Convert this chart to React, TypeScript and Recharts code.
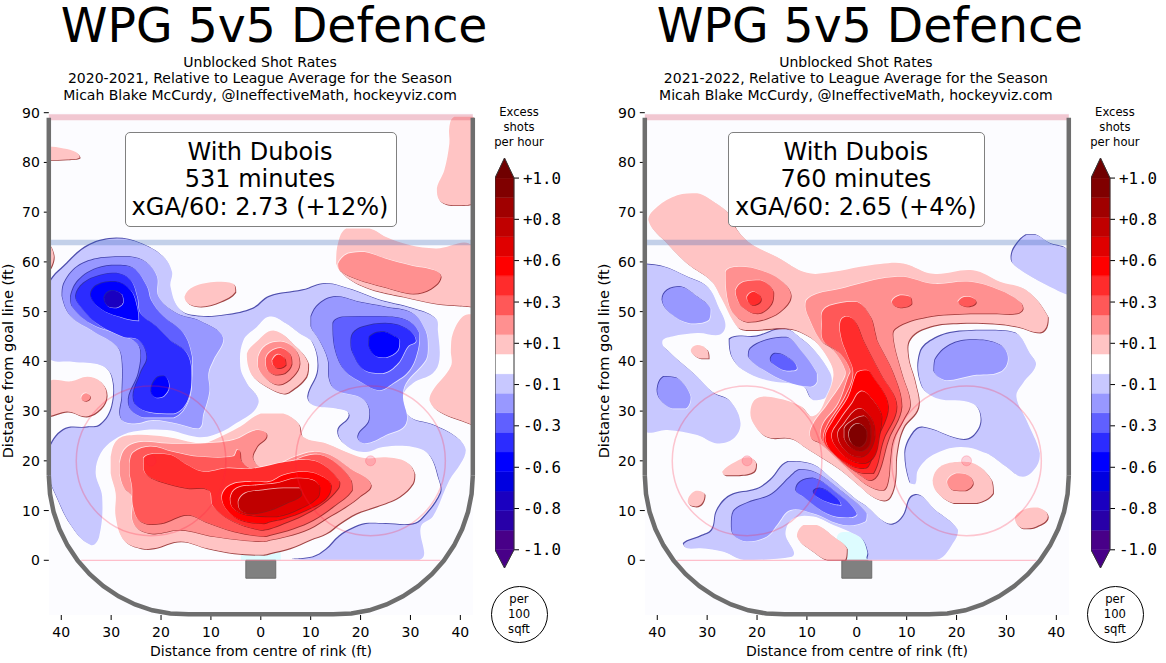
import React from "react"
import { ScatterChart, Scatter, XAxis, YAxis, ReferenceArea, ReferenceDot } from "recharts"

type Pt = [number, number]

const FONT = "'DejaVu Sans', sans-serif"
const INK = "#000"

// contour band colours, same steps as the colour bar
const REDS = ["#ffc4c4", "#ff9090", "#ff5858", "#ff2c2c", "#ff0000", "#e00000", "#c00000", "#a00000", "#800000"]
const BLUES = ["#c8c8ff", "#9898ff", "#6060ff", "#2c2cff", "#0000ff", "#0000e0", "#1a00c0", "#2800a8", "#480088"]

const XTICKS = [-40, -30, -20, -10, 0, 10, 20, 30, 40]
const YTICKS = [0, 10, 20, 30, 40, 50, 60, 70, 80, 90]

const BAR_COLORS = ["#480088", "#2800a8", "#1a00c0", "#0000e0", "#0000ff", "#2c2cff", "#6060ff", "#9898ff", "#c8c8ff", "#ffffff", "#ffc4c4", "#ff9090", "#ff5858", "#ff2c2c", "#ff0000", "#e00000", "#c00000", "#a00000", "#800000"]
const BAR_EDGES = [-1, -0.895, -0.789, -0.684, -0.579, -0.474, -0.368, -0.263, -0.158, -0.053, 0.053, 0.158, 0.263, 0.368, 0.474, 0.579, 0.684, 0.789, 0.895, 1]
const BAR_TICKS = [-1, -0.778, -0.556, -0.333, -0.111, 0.111, 0.333, 0.556, 0.778, 1]
const BAR_LABELS = ["-1.0", "-0.8", "-0.6", "-0.3", "-0.1", "+0.1", "+0.3", "+0.6", "+0.8", "+1.0"]

// rink markings
const BOARD_LEFT: Pt[] = [[-42.5, 89], [-42.5, 17]]
const BOARD_RIGHT: Pt[] = [[42.5, 89], [42.5, 17]]
const BOARD_BOTTOM: Pt[] = [[-42.5, 17], [-42.26, 13.35], [-41.55, 9.75], [-40.37, 6.28], [-38.75, 3], [-36.71, -0.05], [-34.3, -2.8], [-31.55, -5.21], [-28.5, -7.25], [-25.22, -8.87], [-21.75, -10.05], [-18.15, -10.7], [-14.5, -10.85], [14.5, -10.85], [18.15, -10.7], [21.75, -10.05], [25.22, -8.87], [28.5, -7.25], [31.55, -5.21], [34.3, -2.8], [36.71, -0.05], [38.75, 3], [40.37, 6.28], [41.55, 9.75], [42.26, 13.35], [42.5, 17]]
const TOP_LINE: Pt[] = [[-42.5, 89.1], [42.5, 89.1]]
const BLUE_LINE: Pt[] = [[-42.5, 63.9], [42.5, 63.9]]
const GOAL_LINE: Pt[] = [[-36, 0], [36, 0]]
const FACEOFF_X = [-22, 22]

// 2020-2021 contours
const A_B1_MAIN: Pt[] = [[-42.5, 55], [-38.8, 59.7], [-34.3, 63.4], [-28.8, 64.7], [-24.1, 63.7], [-19.5, 61], [-17.8, 58], [-18.1, 55], [-16.1, 50.3], [-12, 49], [-6.8, 49.3], [-1.5, 50.6], [1.8, 53], [8.5, 54.3], [13.1, 55.6], [18.5, 54.3], [23.8, 52.3], [30.5, 50.6], [35.1, 48.6], [35.5, 46.2], [35.8, 40.3], [34.5, 37.6], [30.5, 35.6], [28.5, 32.9], [29.8, 28.9], [34.5, 27.2], [39.1, 24.8], [41.1, 22.2], [40.1, 19.5], [37.8, 16.1], [34.5, 8.8], [32.1, 6.8], [31.8, 0.1], [6.5, 0.1], [10.5, 0.6], [13.1, 2.1], [15.8, 4.8], [18.5, 6.4], [21.1, 7.3], [25.1, 7.3], [30.5, 7.2], [32.5, 8.4], [36.1, 13.5], [35.8, 16.1], [33.8, 21.2], [30.5, 22.8], [24.5, 22.8], [21.1, 21.8], [17.5, 22.8], [15.5, 25.9], [17.8, 29.2], [15.1, 30.5], [10.5, 31.2], [9.5, 32.9], [11.5, 38.2], [10.5, 43.6], [7.8, 45.6], [5.1, 47.6], [1.8, 49], [-0.8, 46.9], [-3.5, 44.2], [-4.1, 38.9], [-2.8, 35.6], [-0.5, 31.5], [-5.5, 27.2], [-9.5, 25.2], [-12.8, 24.8], [-18.8, 26.2], [-25.5, 25.9], [-29.5, 24.2], [-32.1, 21.5], [-33.1, 17.5], [-31.8, 12.8], [-32.4, 4.8], [-34.1, 3.1], [-38, 7], [-41, 13], [-42.5, 17], [-42.5, 22], [-39.5, 26.2], [-34.8, 26.7], [-32.1, 27.2], [-29.8, 30.9], [-29.8, 36.9], [-32.1, 39.2], [-37.8, 39.9], [-42.5, 41]]
const A_B2_LEFT: Pt[] = [[-39.8, 53], [-39.5, 55.5], [-36.8, 59], [-32, 60.8], [-26.1, 61], [-22.8, 59.8], [-20.8, 57], [-20.5, 53], [-16.8, 49.6], [-12, 48], [-7.5, 44.6], [-9.5, 40.3], [-10.5, 37.6], [-10.3, 34], [-11.5, 29.5], [-12.5, 26.5], [-16.8, 27.5], [-21.5, 28.2], [-25.5, 27.5], [-28, 28.5], [-27.8, 32.9], [-27.8, 40.3], [-28.8, 43], [-33.5, 46], [-38, 49]]
const A_B3_LEFT: Pt[] = [[-38.1, 53], [-36.5, 56.3], [-32.8, 58.7], [-28.8, 59.3], [-25.5, 58.7], [-22.8, 55], [-22, 52.3], [-19.5, 49], [-15.5, 45.6], [-13.8, 41], [-13.8, 37.6], [-14.5, 32.2], [-17.5, 28.7], [-23.5, 28.7], [-26.5, 31.5], [-24.5, 37.6], [-24.1, 42.3], [-25.5, 44.2], [-28.8, 45.6], [-34.1, 47.6], [-37.8, 51]]
const A_B4_LEFT: Pt[] = [[-37.1, 53], [-35.5, 55.7], [-32.1, 57.3], [-28.8, 57.7], [-26.1, 56.3], [-24.8, 53], [-24.1, 49.6], [-20.8, 46.9], [-18.1, 44.2], [-14.8, 41.6], [-13.9, 36.9], [-14.8, 31.9], [-17.5, 29.5], [-22.8, 29.9], [-25.5, 32.2], [-24.1, 37.6], [-22.8, 40.9], [-24.5, 44.3], [-27.5, 44.9], [-32.8, 47.6], [-36.1, 51]]
const A_B5_TOP: Pt[] = [[-29.1, 56], [-26.1, 54.3], [-24.8, 50.9], [-24.5, 48.2], [-28.1, 48.9], [-32.1, 50.6], [-34.1, 53.3], [-32.8, 55.3]]
const A_B7_TOP: Pt[] = [[-31.4, 52.8], [-30, 54.2], [-28, 53.6], [-27.6, 51.9], [-29, 50.8], [-30.8, 51.2]]
const A_B5_LOW: Pt[] = [[-22, 34], [-21, 36.5], [-19.3, 37], [-18.4, 35], [-19.5, 33], [-21, 32.7]]
const A_B2_RIGHT: Pt[] = [[10.1, 49], [11.8, 51.6], [15.1, 53], [19.8, 51.9], [25.1, 50.9], [30.5, 49.6], [33.1, 46], [33.5, 43], [33.1, 40.3], [29.1, 35.6], [28.5, 32.9], [29.1, 27.5], [25.1, 25.2], [20.8, 23.5], [19.5, 24.9], [21.8, 28.2], [20.8, 32.2], [15.1, 34.2], [13.8, 36.2], [13.5, 40.3], [11.8, 44.2], [10.1, 46.9]]
const A_B3_RIGHT: Pt[] = [[14.5, 47.6], [16.5, 48.9], [23.8, 49], [29.1, 48.3], [31.8, 45.6], [31.5, 42.3], [29.8, 38.2], [26.5, 35.6], [23.8, 34.2], [20.5, 35.6], [16.8, 38.2], [14.8, 42.9]]
const A_B4_RIGHT: Pt[] = [[18.5, 45.6], [20.5, 46.9], [25.1, 47.6], [29.1, 46.6], [31.1, 44.2], [29.5, 43], [27.5, 39.6], [24.5, 37.6], [20.8, 38.2], [18.5, 41.6], [18.1, 43.6]]
const A_B5_RIGHT: Pt[] = [[21.8, 44.9], [24.5, 45.9], [27.1, 44.9], [27.8, 44.3], [27.5, 42.3], [25.1, 40.8], [23.1, 41], [21.7, 43]]

const A_R1_CORNER: Pt[] = [[-42.5, 83.2], [-39.5, 82.8], [-37.1, 82.1], [-36.3, 81], [-38.8, 80.6], [-42.5, 80.5]]
const A_R1_WALL: Pt[] = [[-42.5, 63.5], [-41.5, 61], [-42.5, 58.5]]
const A_R1_OVAL: Pt[] = [[-15.3, 53], [-13.5, 55], [-8.8, 56], [-5.5, 55.6], [-5.1, 54], [-8.1, 52], [-12.1, 51], [-14.5, 51.6]]
const A_R1_TOPRIGHT: Pt[] = [[38.8, 89.2], [37.8, 87.2], [37.8, 83.8], [36.8, 78.5], [35.3, 74.8], [35.8, 72.4], [38.5, 71.4], [42.5, 71.7], [42.5, 86], [42.5, 89.2]]
const A_R1_UPPER: Pt[] = [[17.1, 66.7], [21.8, 66.7], [25.1, 65], [29.8, 63.4], [35.1, 62.7], [42.5, 63], [42.5, 51], [39.8, 51.2], [35.1, 51.6], [28.5, 53], [21.8, 54.6], [17.1, 57], [15.1, 59.7], [15.3, 63]]
const A_R2_UPPER: Pt[] = [[15.5, 59.7], [17.5, 61.7], [20.8, 62], [24.9, 60.7], [30.1, 59.3], [34.8, 58.3], [36.1, 57], [34.1, 54.6], [30.5, 53.6], [24.5, 55], [19.1, 56.6], [15.8, 58.3]]
const A_R1_LOWER: Pt[] = [[42.5, 49.5], [40.5, 49], [38.5, 45.6], [38.1, 42.3], [38.1, 39], [34.5, 34.2], [33.8, 32.2], [35.8, 29.9], [41.8, 27.5], [42.5, 27.2]]
const A_R1_MID: Pt[] = [[-2.8, 41.6], [-0.8, 44], [2.5, 46.2], [7.1, 42.9], [9.5, 39.6], [9.1, 36.9], [5.8, 33.9], [4.5, 33.5], [1.2, 34.9], [-1.5, 36.9], [-2.5, 38.9]]
const A_R2_MID: Pt[] = [[-0.5, 41], [1, 43.2], [4, 44], [6.8, 42.5], [7.8, 39.6], [6.5, 37], [3.5, 35.3], [0.8, 36.8], [-0.6, 39]]
const A_R3_MID: Pt[] = [[1, 40.5], [2, 42], [4, 42.7], [5.8, 41.5], [6.2, 39.5], [4.8, 37.6], [2.8, 37.3], [1.2, 38.5]]
const A_R4_MID: Pt[] = [[2.3, 40.2], [3.5, 41.4], [4.8, 40.6], [5, 39.3], [3.6, 38.6], [2.5, 39.2]]
const A_R1_LEFT: Pt[] = [[-42.5, 35.9], [-38, 36], [-34.8, 36.9], [-32.1, 35.9], [-30.9, 33.2], [-32.1, 30.5], [-35.1, 28.9], [-38.8, 29.9], [-42.5, 29]]
const A_R2_LEFT: Pt[] = [[-36, 32.6], [-35.1, 33.6], [-34.2, 32.8], [-35.1, 32]]
const A_R1_MAIN: Pt[] = [[-30.1, 20.8], [-28.8, 24.2], [-25.5, 25.2], [-18.8, 24.8], [-12.1, 23.5], [-9.5, 24.2], [-4.1, 26.9], [0, 29.5], [4.5, 29.5], [7.5, 27.5], [8.5, 24.8], [13.1, 23.5], [18.5, 21.2], [21.1, 20.5], [25.1, 20.7], [29.1, 19.8], [30.8, 17.5], [30.5, 15.5], [27.8, 12.8], [23.1, 10.8], [19.1, 9.4], [15.8, 7.4], [13.1, 5.4], [9.8, 4.1], [5.8, 2.4], [1.8, 1.4], [0.5, 1.1], [-5.5, 1.4], [-10.8, 2.4], [-16.1, 3.8], [-21.5, 2.4], [-24.1, 2.4], [-27.5, 4.1], [-29.1, 8.8], [-29.1, 13.5], [-30.1, 17.5]]
const A_R2_MAIN: Pt[] = [[-28.3, 19.5], [-27.1, 22.5], [-24.1, 23.8], [-18.8, 23.5], [-12.1, 23.5], [-5.5, 24.2], [-0.8, 26.2], [1.2, 25.2], [-0.8, 22.8], [-1.5, 20.2], [1.2, 18.5], [6.8, 20.8], [10.5, 21.8], [13.8, 21.2], [17.8, 18.5], [22.1, 15.2], [19.8, 12.8], [17.1, 10.8], [13.1, 8.4], [9.8, 6.4], [5.1, 4.8], [1.8, 4.1], [0.5, 3.8], [-4.1, 4.1], [-9.5, 4.8], [-16.1, 6.1], [-22.1, 5.4], [-25.5, 7.4], [-25.8, 12.8], [-27.5, 14.8], [-28.3, 17.5]]
const A_R3_MAIN: Pt[] = [[-26.3, 19.5], [-25.5, 21.7], [-22.1, 22.9], [-17.5, 21.8], [-12.1, 20.8], [-5.5, 20.9], [-4.5, 22.2], [-3.8, 19.8], [-1.5, 18.2], [1.2, 17.4], [8.5, 20.8], [11.8, 21.2], [15.1, 19.5], [18.1, 16.1], [18.3, 14.1], [14.5, 10.8], [10.5, 8.1], [6.5, 6.4], [1.8, 5.1], [0.5, 4.8], [-5.5, 5.8], [-10.8, 7.6], [-14.8, 9.1], [-20.1, 7.4], [-24.1, 7.8], [-25.6, 10.8], [-25.8, 14.8], [-26.3, 17.5]]
const A_R4_MAIN: Pt[] = [[-23.5, 18.5], [-23.5, 20.5], [-21.5, 21.4], [-18.1, 21.2], [-14.8, 19.2], [-11.5, 17.8], [-6.8, 18.5], [-2, 18.4], [5.1, 19.8], [9.1, 20.2], [12.5, 19.2], [15.8, 15.8], [15.5, 14.5], [12.5, 11.5], [8.5, 9.1], [4.5, 7.4], [1.8, 6.4], [-0.1, 6.1], [-5.5, 7.8], [-9.5, 10.8], [-10.5, 14.1], [-14.8, 14.5], [-20.1, 15.8], [-22.8, 17.1]]
const A_R5_MAIN: Pt[] = [[-7.8, 12.8], [-6.1, 15.1], [-2.1, 15.8], [1.8, 15.8], [4.5, 17.1], [8.5, 17.8], [11.8, 17.1], [14.1, 15.1], [13.1, 12.5], [9.1, 10.1], [4.5, 8.4], [1.8, 7.8], [0.5, 7.4], [-4.1, 8.1], [-6.8, 10.1]]
const A_R6_MAIN: Pt[] = [[-6.1, 12.5], [-4.8, 14.5], [-0.8, 15.1], [3.1, 15.5], [7.1, 16.5], [10.5, 16.1], [11.8, 14.8], [11.5, 12.8], [7.8, 10.4], [3.1, 8.8], [-2.8, 9.1], [-5.5, 10.4]]
const A_R7_MAIN: Pt[] = [[-4.5, 11.8], [-3.1, 13.5], [0.5, 14.1], [4.5, 14.5], [7.8, 14.5], [8.1, 13.1], [5.1, 11.5], [1.8, 10.1], [-2.1, 9.4], [-4.1, 10.1]]

// 2021-2022 contours
const B_B1_LEFT: Pt[] = [[-42.5, 59.5], [-38.7, 59], [-34, 57], [-30, 55], [-28, 51.6], [-26.7, 46], [-32, 45.7], [-37, 45], [-39, 43.9], [-37.3, 41.6], [-32, 36.9], [-28.7, 33.6], [-25.3, 31.9], [-23.3, 27.5], [-24.7, 24.5], [-28, 23.5], [-32, 25.2], [-38, 26.2], [-42.5, 26.3], [-42.5, 40]]
const B_B2_UL: Pt[] = [[-39, 52.3], [-38, 54.3], [-35.3, 55], [-32, 53], [-29.3, 50.6], [-29.7, 48.3], [-33.3, 47.6], [-37.3, 49.6]]
const B_B2_LL: Pt[] = [[-40, 34.2], [-38.7, 36.9], [-36, 36.6], [-33.3, 32.9], [-34.3, 30.5], [-37, 30.5], [-39.3, 32.2]]
const B_B1_MID: Pt[] = [[-25.5, 44.4], [-20, 45], [-14.7, 46.6], [-10.7, 44.2], [-8, 41.6], [-5.3, 37.6], [-5, 35.6], [-6, 32.9], [-8.7, 32.2], [-10.7, 34.9], [-18, 36.2], [-22.7, 38.2], [-25, 40.9]]
const B_B2_MID: Pt[] = [[-21.7, 40.9], [-21.3, 42.6], [-18, 44.3], [-14, 44.8], [-11.3, 42.3], [-8, 37.6], [-8, 35.9], [-9.3, 34.9], [-14, 35.9], [-18.7, 38.3]]
const B_B3_MID: Pt[] = [[-17.3, 40.3], [-16.3, 41.6], [-14, 40.9], [-12, 38.6], [-14, 38.1], [-16, 38.9]]
const B_B1_TOPRIGHT: Pt[] = [[31, 61], [31.7, 63], [34, 65.4], [36, 65.4], [38.7, 63.7], [42.5, 62], [42.5, 53.4], [38.7, 55], [34, 57.6], [31.3, 59.7]]
const B_B1_RIGHT: Pt[] = [[12.7, 41.6], [15.7, 44.6], [20.7, 46], [27.3, 46.2], [32, 45.6], [34.7, 41.6], [35.9, 39.2], [33.3, 35.6], [32, 32.9], [34, 28.2], [36.7, 21.5], [36, 18.8], [33.3, 16.8], [30, 18.8], [26, 21.5], [20.7, 22.8], [15.3, 21.2], [12.3, 18.2], [11.7, 15.3], [10.7, 15.5], [9.7, 21.5], [11.3, 25.5], [13.3, 26.7], [20.7, 24.3], [23.3, 24.8], [25, 28.2], [23.3, 31.5], [16, 32.6], [13, 35.2]]
const B_B2_RIGHT: Pt[] = [[15.5, 37.9], [15.7, 40.3], [18.7, 43.3], [23.3, 44.3], [28.7, 43.3], [30.3, 40.6], [28.7, 37.9], [23.3, 37.2], [18, 36.2]]
const B_B1_LOW: Pt[] = [[-34.7, 3.3], [-31.3, 4.8], [-29, 6.1], [-28, 10], [-25.3, 13], [-20, 14.3], [-17.3, 16.1], [-13.7, 19.8], [-8.7, 19.2], [-4.7, 16.1], [0, 12.1], [2, 10.8], [5.3, 7.8], [7.3, 7.2], [9.3, 8.8], [11.7, 13.1], [15.8, 10], [20.3, 6.1], [19.7, 4.1], [16, 0.1], [2.3, 0.1], [2.3, 1.4], [1.3, 4.1], [-0.7, 5.4], [-4.7, 7.1], [-8.7, 8.8], [-12.7, 8.4], [-14.3, 5.4], [-13, 0.7], [-22.7, 0.1], [-26.7, 1.7], [-31.3, 2.4], [-34, 2.4]]
const B_B2_LOW: Pt[] = [[-25.1, 7.1], [-24.7, 9.8], [-22, 11.5], [-18, 12.8], [-16, 14.1], [-13.3, 16.8], [-11.3, 18.2], [-8, 17.5], [-3.3, 14.1], [2, 9.4], [1.7, 7.8], [-2.7, 7.1], [-8.7, 9.4], [-13.3, 10.1], [-16, 7.1], [-18, 4.8], [-22, 3.8], [-24.7, 5.1]]
const B_B3_LOW: Pt[] = [[-12.2, 14.1], [-11.3, 15.8], [-8.7, 16.5], [-4.7, 14.1], [0, 9.4], [-2, 8.6], [-6, 9.4], [-10.7, 12.8]]
const B_B4_LOW: Pt[] = [[-8.7, 13.8], [-7.3, 14.5], [-4.7, 13.1], [-3.2, 11.1], [-5.3, 11.5], [-8, 12.8]]

const B_R1_MAIN: Pt[] = [[-41.8, 68.4], [-40, 71.1], [-36, 73.4], [-32, 73.8], [-28.7, 72.1], [-25.7, 69.7], [-24, 66.4], [-21.3, 63.7], [-16, 61], [-10, 57.8], [-4.7, 58], [0.7, 59], [4.7, 59.6], [9.3, 59.7], [15.3, 57.6], [23.3, 58.3], [28.7, 56], [34, 54.3], [38.3, 49], [38, 46.9], [36.6, 45.8], [32, 47], [27.3, 47.6], [20.7, 47.7], [14.7, 47], [10.7, 44.6], [10.3, 41], [11.7, 35.8], [12.3, 30.7], [9.3, 26.6], [8, 21.5], [7.7, 16.1], [6.7, 12.8], [5.3, 12], [2.7, 13.1], [0.7, 14.8], [-3.3, 18.2], [-7.3, 20.8], [-10, 22.5], [-13.3, 24.5], [-18, 24.8], [-20.7, 27.5], [-21.3, 30.2], [-20, 32.6], [-16, 32.6], [-11.3, 31], [-8.7, 29], [-6, 33], [-4.7, 37], [-5.3, 39.7], [-8, 43.7], [-10.7, 45.6], [-14, 46.6], [-22, 46.3], [-24, 47], [-27.3, 53], [-29.3, 56.3], [-34, 59.7], [-38, 63.7]]
const B_R2_LEFT: Pt[] = [[-26.3, 58], [-23.3, 59], [-19.3, 58.3], [-15.3, 56.3], [-13.2, 53.3], [-14.7, 50.6], [-18, 48.6], [-22, 47.9], [-24.7, 49.6], [-26, 53]]
const B_R3_LEFT: Pt[] = [[-24.3, 54.3], [-22.7, 56], [-19.3, 56.3], [-16.7, 54], [-17.3, 51.3], [-20, 49.6], [-23, 51], [-24, 52.7]]
const B_R4_LEFT: Pt[] = [[-22, 53], [-20.7, 54], [-19.2, 52.5], [-20.7, 51.3], [-21.8, 52]]
const B_R2_MAIN: Pt[] = [[-10.1, 52.3], [-8, 53.6], [-3.3, 54.6], [4.7, 56.6], [9.3, 57], [15.3, 55.6], [22.7, 56], [28.7, 54.3], [32.7, 52], [33.3, 50.6], [32, 49.6], [27.3, 49.6], [22.7, 49.6], [14, 48.9], [7.7, 46.6], [7.3, 44.3], [9, 37.6], [10.7, 31.5], [9.3, 28.2], [7.3, 24.2], [6.7, 20.2], [6.3, 16.1], [5.3, 14.1], [3.3, 14.5], [0.7, 16.1], [-3.3, 19.8], [-7.3, 23.5], [-9.3, 24.8], [-8.7, 27.5], [-6, 31.2], [-2.7, 36.2], [-2.3, 38.2], [-4.7, 42.3], [-7.3, 44.3], [-9.7, 49], [-10.3, 51]]
const B_R3_MAIN: Pt[] = [[-6.7, 50.3], [-4, 51.6], [0, 52], [2.7, 49], [3.7, 45.6], [4, 44.3], [7.3, 37.6], [9, 31], [6.3, 24.2], [4.3, 17.5], [2.7, 16.1], [0.7, 17.1], [-4, 20.8], [-7.3, 24.8], [-6.7, 27.5], [-3.7, 31.5], [-1.7, 36.9], [-1.3, 38.2], [-3.3, 41.6], [-6.7, 44.2], [-7, 47.6]]
const B_R4_MAIN: Pt[] = [[-3.3, 47.9], [-2, 49], [-0.3, 47.9], [1.3, 44.2], [4.7, 37.6], [8, 31], [5.3, 24.2], [3.3, 17.5], [1.3, 17.5], [-1.3, 18.5], [-4.7, 21.5], [-6.7, 24.2], [-6, 26.9], [-2.3, 32.9], [-0.7, 37.6], [-2, 41.6], [-3, 44.3]]
const B_R5_MAIN: Pt[] = [[0.3, 37.9], [2, 38.2], [2.7, 37.7], [6.3, 31], [4, 24.2], [2.3, 19], [0.7, 18.5], [-2, 19.5], [-5.3, 22.2], [-6.3, 24.8], [-4.7, 28.2], [-1.7, 32.9], [-0.3, 37]]
const B_R6_MAIN: Pt[] = [[1, 34], [3, 32.5], [5, 29], [4.5, 25], [3.5, 21], [1.5, 19.5], [-1, 20], [-3.5, 22], [-5, 25], [-3.5, 28], [-1, 31.5]]
const B_R7_MAIN: Pt[] = [[1, 30.5], [3.2, 28], [3.6, 25], [2.5, 22], [0.8, 20.8], [-1.2, 21.2], [-3.2, 23.2], [-3.8, 25.5], [-2.5, 27.5], [-0.5, 30]]
const B_R8_MAIN: Pt[] = [[1.5, 29], [2.8, 26.5], [2.6, 23.5], [1, 22], [-1, 22.5], [-2.5, 24.5], [-2.5, 26.5], [-1, 28]]
const B_R9_MAIN: Pt[] = [[0.5, 27.5], [2, 26], [1.8, 24], [0.5, 22.8], [-1, 23.5], [-1.6, 25.5], [-0.8, 27]]
const B_R3_SPOT_A: Pt[] = [[7, 52], [8.7, 53.3], [10.7, 53], [11, 51.6], [9, 50.8], [7.7, 51.1]]
const B_R3_SPOT_B: Pt[] = [[20.3, 52], [22, 53], [23.9, 52], [22.3, 51], [21, 51.3]]
const B_R1_A: Pt[] = [[-33.3, 42.3], [-32, 43.3], [-30, 42.3], [-29.7, 40.6], [-31.3, 40.6], [-32.7, 41.3]]
const B_R1_B: Pt[] = [[-27, 17.8], [-24.3, 19.8], [-21.7, 20.7], [-20.2, 19.5], [-20.7, 17.8], [-23.7, 17.1], [-26.3, 17.1]]
const B_R1_C: Pt[] = [[-33.9, 11.8], [-32.3, 14], [-30.5, 13.3], [-31, 11.5], [-32.3, 10.8]]
const B_R1_NET: Pt[] = [[-12, 4.8], [-10.7, 7.1], [-8, 7.1], [-4.7, 4.8], [-2, 2.4], [-2.3, 0.1], [-6, 0.1], [-8.7, 1.7]]
const B_R1_OVAL: Pt[] = [[15.2, 16.1], [16.7, 18.8], [20.7, 19.8], [24, 19.2], [27, 16.1], [27.3, 13.5], [24, 11.5], [19.3, 11.5], [16, 13.8]]
const B_R2_OVAL: Pt[] = [[18.1, 15.8], [20, 17.5], [22.3, 17.1], [23.3, 15.5], [21.7, 14], [19.3, 14.1]]
const B_R1_FAR: Pt[] = [[31.7, 8.4], [33.3, 10.1], [36.3, 10.6], [38.3, 8.8], [36, 6.8], [33.3, 6.4]]

type Layer = [string, number, Pt[]]

const A_LAYERS: Layer[] = [
  ["b", 0, A_B1_MAIN], ["b", 1, A_B2_LEFT], ["b", 2, A_B3_LEFT], ["b", 3, A_B4_LEFT], ["b", 4, A_B5_TOP], ["b", 6, A_B7_TOP], ["b", 4, A_B5_LOW],
  ["b", 1, A_B2_RIGHT], ["b", 2, A_B3_RIGHT], ["b", 3, A_B4_RIGHT], ["b", 4, A_B5_RIGHT],
  ["r", 0, A_R1_CORNER], ["r", 0, A_R1_WALL], ["r", 0, A_R1_OVAL], ["r", 0, A_R1_TOPRIGHT], ["r", 0, A_R1_UPPER], ["r", 1, A_R2_UPPER], ["r", 0, A_R1_LOWER],
  ["r", 0, A_R1_MID], ["r", 1, A_R2_MID], ["r", 2, A_R3_MID], ["r", 3, A_R4_MID], ["r", 0, A_R1_LEFT], ["r", 1, A_R2_LEFT],
  ["r", 0, A_R1_MAIN], ["r", 1, A_R2_MAIN], ["r", 2, A_R3_MAIN], ["r", 3, A_R4_MAIN], ["r", 4, A_R5_MAIN], ["r", 5, A_R6_MAIN], ["r", 6, A_R7_MAIN],
]

const B_LAYERS: Layer[] = [
  ["b", 0, B_B1_LEFT], ["b", 1, B_B2_UL], ["b", 1, B_B2_LL], ["b", 0, B_B1_MID], ["b", 1, B_B2_MID], ["b", 2, B_B3_MID], ["b", 0, B_B1_TOPRIGHT],
  ["b", 0, B_B1_RIGHT], ["b", 1, B_B2_RIGHT], ["b", 0, B_B1_LOW], ["b", 1, B_B2_LOW], ["b", 2, B_B3_LOW], ["b", 3, B_B4_LOW],
  ["r", 0, B_R1_MAIN], ["r", 1, B_R2_LEFT], ["r", 2, B_R3_LEFT], ["r", 3, B_R4_LEFT], ["r", 1, B_R2_MAIN], ["r", 2, B_R3_MAIN], ["r", 3, B_R4_MAIN], ["r", 4, B_R5_MAIN],
  ["r", 5, B_R6_MAIN], ["r", 6, B_R7_MAIN], ["r", 7, B_R8_MAIN], ["r", 8, B_R9_MAIN], ["r", 2, B_R3_SPOT_A], ["r", 2, B_R3_SPOT_B],
  ["r", 0, B_R1_A], ["r", 0, B_R1_B], ["r", 0, B_R1_C], ["r", 0, B_R1_NET], ["r", 0, B_R1_OVAL], ["r", 1, B_R2_OVAL], ["r", 0, B_R1_FAR],
]

const rows = (pts: Pt[]) => pts.map(([x, y]) => ({ x, y }))
const noDot = () => <g />

// smooth closed outline through the already scaled points
function closedPath(points: { x: number; y: number }[]) {
  const n = points.length
  const xs = points.map((p) => p.x)
  const ys = points.map((p) => p.y)
  // keep control points inside the outline's box so nothing bulges past the boards
  const cx = (v: number) => Math.min(Math.max(v, Math.min(...xs)), Math.max(...xs))
  const cy = (v: number) => Math.min(Math.max(v, Math.min(...ys)), Math.max(...ys))
  const tangent = (i: number) => {
    const a = points[(i - 1 + n) % n]
    const b = points[(i + 1) % n]
    const dx = b.x - a.x
    const dy = b.y - a.y
    const len = Math.hypot(dx, dy) || 1
    return [dx / len, dy / len]
  }
  let d = `M${points[0].x},${points[0].y}`
  for (let i = 0; i < n; i++) {
    const p = points[i]
    const q = points[(i + 1) % n]
    const seg = Math.hypot(q.x - p.x, q.y - p.y) * 0.36
    const [tx, ty] = tangent(i)
    const [ux, uy] = tangent((i + 1) % n)
    d += `C${cx(p.x + tx * seg)},${cy(p.y + ty * seg)} ${cx(q.x - ux * seg)},${cy(q.y - uy * seg)} ${q.x},${q.y}`
  }
  return d + "Z"
}

// each contour gets a dark edge on one side and a white edge on the other
const bevel = (kind: string, level: number) => (props: any) => {
  const d = closedPath(props.points)
  const red = kind === "r"
  const fill = red ? REDS[level] : BLUES[level]
  const dark = red ? "#8a1616" : "#24249a"
  const sign = red ? 1 : -1
  const shift = sign * (level === 0 ? 0.9 : 0.7)
  return (
    <g>
      <path d={d} fill={dark} opacity={0.8} transform={`translate(${shift},${shift})`} />
      <path d={d} fill="#fff" opacity={0.7} transform={`translate(${-sign * 0.6},${-sign * 0.6})`} />
      <path d={d} fill={fill} />
    </g>
  )
}

function Txt({ x, y, size, children, family = FONT }: any) {
  return (
    <div style={{ position: "absolute", left: x, top: y, transform: "translate(-50%,-50%)", whiteSpace: "nowrap", fontFamily: family, fontSize: size, lineHeight: 1, color: INK }}>
      {children}
    </div>
  )
}

function Rink({ layers }: { layers: Layer[] }) {
  const guide = (pts: Pt[], stroke: string, width: number, opacity: number) => (
    <Scatter data={rows(pts)} shape={noDot} isAnimationActive={false} line={{ stroke, strokeWidth: width, strokeOpacity: opacity, fill: "none" }} />
  )
  return (
    <ScatterChart width={480} height={663} margin={{ top: 112.7, left: 0, right: 7.2, bottom: 0 }} style={{ position: "absolute", left: 0, top: 0 }}>
      <XAxis
        type="number"
        dataKey="x"
        domain={[-42.5, 42.5]}
        ticks={XTICKS}
        interval={0}
        height={48}
        axisLine={false}
        tickLine={{ stroke: INK }}
        tickSize={5}
        tickMargin={7}
        tick={{ fill: INK, fontSize: 14, fontFamily: FONT }}
        tickFormatter={(v: number) => String(Math.abs(v))}
      />
      <YAxis
        type="number"
        dataKey="y"
        domain={[-11, 90]}
        ticks={YTICKS}
        interval={0}
        width={48.8}
        axisLine={false}
        tickLine={{ stroke: INK }}
        tickSize={5}
        tickMargin={4}
        tick={{ fill: INK, fontSize: 14, fontFamily: FONT }}
      />
      <ReferenceArea x1={-42.5} x2={42.5} y1={-11} y2={90} fill="#fcfcff" fillOpacity={1} stroke="none" />
      {layers.map(([kind, level, pts], i) => (
        <Scatter key={i} data={rows(pts)} shape={noDot} isAnimationActive={false} line={bevel(kind, level)} />
      ))}
      {guide(TOP_LINE, "#d02040", 6, 0.24)}
      {guide(BLUE_LINE, "#2f5cb0", 5.5, 0.28)}
      {guide(GOAL_LINE, "#ff8098", 1.3, 0.5)}
      {FACEOFF_X.map((x) => (
        <ReferenceDot key={x} x={x} y={20} r={74.8} fill="none" stroke="#ff2040" strokeOpacity={0.25} strokeWidth={1.5} />
      ))}
      {FACEOFF_X.map((x) => (
        <ReferenceDot key={x} x={x} y={20} r={5} fill="#ff2040" fillOpacity={0.18} stroke="#ff2040" strokeOpacity={0.2} strokeWidth={1} />
      ))}
      <ReferenceArea x1={-4} x2={4} y1={0} y2={5.7} fill="#00ffff" fillOpacity={0.12} stroke="none" radius={[6, 6, 0, 0]} />
      <ReferenceArea x1={-3} x2={3} y1={-3.6} y2={0} fill="#808080" fillOpacity={1} stroke="#6c6c6c" strokeWidth={1} />
      {guide(BOARD_LEFT, "#6e6e6e", 4.5, 1)}
      {guide(BOARD_RIGHT, "#6e6e6e", 4.5, 1)}
      {guide(BOARD_BOTTOM, "#6e6e6e", 4.5, 1)}
    </ScatterChart>
  )
}

function ColorBar() {
  const outline: Pt[] = [[0, -1], [0, 1], [0.5, 1.108], [1, 1], [1, -1], [0.5, -1.098]]
  const upTip: Pt[] = [[0, 1], [0.5, 1.108], [1, 1]]
  const downTip: Pt[] = [[0, -1], [0.5, -1.098], [1, -1]]
  const solid = (pts: Pt[], color: string, key: string) => (
    <Scatter key={key} data={rows(pts)} shape={noDot} isAnimationActive={false} lineJointType="linearClosed" line={{ fill: color, stroke: color, strokeWidth: 0.4 }} />
  )
  return (
    <ScatterChart width={80} height={663} margin={{ top: 158, left: 0, right: 0, bottom: 95 }} style={{ position: "absolute", left: 495.3, top: 0 }}>
      <XAxis type="number" dataKey="x" domain={[0, 1]} hide />
      <YAxis
        type="number"
        dataKey="y"
        orientation="right"
        domain={[-1.098, 1.108]}
        ticks={BAR_TICKS}
        interval={0}
        width={61}
        axisLine={false}
        tickLine={{ stroke: INK }}
        tickSize={5}
        tickMargin={4}
        tick={{ fill: INK, fontSize: 15.8, fontFamily: "'DejaVu Sans Mono', monospace" }}
        tickFormatter={(_: number, i: number) => BAR_LABELS[i]}
      />
      {BAR_COLORS.map((c, i) =>
        solid([[0, BAR_EDGES[i]], [1, BAR_EDGES[i]], [1, BAR_EDGES[i + 1]], [0, BAR_EDGES[i + 1]]], c, `band${i}`)
      )}
      {solid(upTip, "#700000", "up")}
      {solid(downTip, "#480088", "down")}
      <Scatter data={rows(outline)} shape={noDot} isAnimationActive={false} lineJointType="linearClosed" line={{ fill: "none", stroke: "#333", strokeWidth: 1 }} />
    </ScatterChart>
  )
}

function Panel({ left, season, minutes, xga, layers, boxLeft, boxWidth }: any) {
  return (
    <div style={{ position: "absolute", left, top: 0, width: 570, height: 663 }}>
      <Rink layers={layers} />
      <ColorBar />
      <Txt x={274} y={25.5} size={47.3}>WPG 5v5 Defence</Txt>
      <Txt x={260} y={62} size={14}>Unblocked Shot Rates</Txt>
      <Txt x={260} y={78} size={14}>{season}, Relative to League Average for the Season</Txt>
      <Txt x={260} y={95} size={14}>Micah Blake McCurdy, @IneffectiveMath, hockeyviz.com</Txt>
      <div style={{ position: "absolute", left: boxLeft, top: 132, width: boxWidth, height: 93, background: "#fff", border: "1px solid #808080", borderRadius: 5 }} />
      <Txt x={boxLeft + boxWidth / 2} y={152} size={24}>With Dubois</Txt>
      <Txt x={boxLeft + boxWidth / 2} y={179} size={24}>{minutes} minutes</Txt>
      <Txt x={boxLeft + boxWidth / 2} y={207} size={24}>xGA/60: {xga}</Txt>
      <Txt x={519} y={113} size={11.6}>Excess</Txt>
      <Txt x={519} y={128} size={11.6}>shots</Txt>
      <Txt x={519} y={143} size={11.6}>per hour</Txt>
      <div style={{ position: "absolute", left: 491, top: 586, width: 55, height: 55, border: "1.4px solid #000", borderRadius: "50%" }} />
      <Txt x={519} y={600} size={11.6}>per</Txt>
      <Txt x={519} y={615} size={11.6}>100</Txt>
      <Txt x={519} y={630} size={11.6}>sqft</Txt>
      <Txt x={261} y={651} size={14}>Distance from centre of rink (ft)</Txt>
      <div style={{ position: "absolute", left: 8, top: 361, transform: "translate(-50%,-50%) rotate(-90deg)", whiteSpace: "nowrap", fontFamily: FONT, fontSize: 14.5, lineHeight: 1, color: INK }}>
        Distance from goal line (ft)
      </div>
    </div>
  )
}

export default function App() {
  return (
    <div style={{ position: "absolute", left: 0, top: 0, width: 1166, height: 663, background: "#fff", overflow: "hidden" }}>
      <Panel left={0} season="2020-2021" minutes="531" xga="2.73 (+12%)" layers={A_LAYERS} boxLeft={125} boxWidth={270} />
      <Panel left={595.9} season="2021-2022" minutes="760" xga="2.65 (+4%)" layers={B_LAYERS} boxLeft={132.5} boxWidth={255} />
    </div>
  )
}
